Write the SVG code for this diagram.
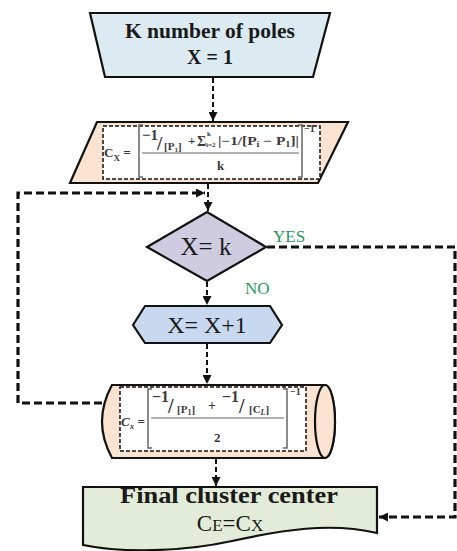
<svg xmlns="http://www.w3.org/2000/svg" width="457" height="551" viewBox="0 0 457 551">
  <defs>
    <style>
      .shape { stroke: #111; stroke-width: 2.2; stroke-linejoin: miter; }
      .inner { fill: #fff; stroke: #111; stroke-width: 1.5; stroke-dasharray: 4 2; }
      .flow { fill: none; stroke: #111; stroke-width: 2; stroke-dasharray: 5 3; }
      .loop { fill: none; stroke: #111; stroke-width: 3.2; stroke-dasharray: 8 4; }
      .title { font-family: "Liberation Serif", "Times New Roman", serif; font-weight: bold; fill: #1a1a1a; text-anchor: middle; }
      .plain { font-family: "Liberation Serif", "Times New Roman", serif; fill: #1a1a1a; text-anchor: middle; }
      .math { font-family: "Liberation Serif", "Times New Roman", serif; font-weight: bold; fill: #3a3a3a; }
      .brk { fill: none; stroke: #666; stroke-width: 1.5; }
      .bar { stroke: #666; stroke-width: 1.2; }
      .lbl { font-family: "Liberation Serif", "Times New Roman", serif; font-size: 17px; fill: #1f9a5c; }
    </style>
    <marker id="ah" viewBox="0 0 10 10" refX="10" refY="5" markerWidth="9" markerHeight="9" markerUnits="userSpaceOnUse" orient="auto">
      <path d="M0,0 L10,5 L0,10 z" fill="#111"/>
    </marker>
  </defs>

  <!-- connectors -->
  <g id="connectors">
    <line class="flow" x1="213" y1="78" x2="213" y2="121" marker-end="url(#ah)"/>
    <line class="flow" x1="208" y1="184" x2="208" y2="211" marker-end="url(#ah)"/>
    <line class="flow" x1="207" y1="282" x2="207" y2="305" marker-end="url(#ah)"/>
    <line class="flow" x1="207" y1="344" x2="207" y2="384" marker-end="url(#ah)"/>
    <line class="flow" x1="216" y1="459" x2="216" y2="486" marker-end="url(#ah)"/>
    <!-- loop back from the stored result to the test -->
    <polyline class="loop" points="102,403 18,403 18,193 205,193" marker-end="url(#ah)"/>
    <!-- YES branch to the final result -->
    <polyline class="loop" points="267,247 455,247 455,517 379,517" marker-end="url(#ah)"/>
  </g>

  <!-- input: K number of poles -->
  <g id="input">
    <polygon class="shape" points="90,13 330,13 313,77 105,77" fill="#dceaf2"/>
    <text class="title" x="210" y="38" font-size="20" textLength="170" lengthAdjust="spacingAndGlyphs">K number of poles</text>
    <text class="title" x="210" y="64" font-size="20">X = 1</text>
  </g>

  <!-- initial centre formula -->
  <g id="init-formula">
    <polygon class="shape" points="97,122 348,122 318,183 70,183" fill="#fbe3d2"/>
    <rect class="inner" x="103" y="126" width="217" height="53"/>
    <text class="math" x="104" y="157" font-size="13">C<tspan font-size="9" dy="4">X</tspan><tspan dy="-4" font-size="13"> =</tspan></text>
    <path class="brk" d="M143,125 H139 V177 H143"/>
    <path class="brk" d="M298,125 H302 V177 H298"/>
    <text class="math" x="304" y="132" font-size="10">−1</text>
    <line class="bar" x1="142" y1="153" x2="299" y2="153"/>
    <text class="math" x="142" y="140" font-size="15">−1</text>
    <text class="math" x="157" y="150" font-size="19">/</text>
    <text class="math" x="164" y="150" font-size="11">[P<tspan font-size="7" dy="2">1</tspan><tspan dy="-2" font-size="11">]</tspan></text>
    <text class="math" x="188" y="145" font-size="13">+</text>
    <text class="math" x="197" y="146" font-size="14">Σ</text>
    <text class="math" x="207" y="136" font-size="7">k</text>
    <text class="math" x="206" y="147" font-size="7">i=2</text>
    <text class="math" x="218" y="145" font-size="12" textLength="81" lengthAdjust="spacingAndGlyphs">|−1/[P<tspan font-size="8" dy="2">i</tspan><tspan dy="-2" font-size="12"> − P</tspan><tspan font-size="8" dy="2">1</tspan><tspan dy="-2" font-size="12">]|</tspan></text>
    <text class="math" x="217" y="170" font-size="13">k</text>
  </g>

  <!-- decision -->
  <g id="decision">
    <polygon class="shape" points="207,212 266,247 207,281 147,247" fill="#cfcbe1"/>
    <text class="plain" x="206" y="255" font-size="25">X= k</text>
    <text class="lbl" x="273" y="242">YES</text>
    <text class="lbl" x="245" y="294">NO</text>
  </g>

  <!-- increment -->
  <g id="increment">
    <polygon class="shape" points="133,325 145,306 270,306 282,325 270,343 145,343" fill="#c7d8ef"/>
    <text class="plain" x="207" y="333" font-size="24">X= X+1</text>
  </g>

  <!-- updated centre formula (stored data) -->
  <g id="update-formula">
    <path class="shape" d="M112,385 H325 A10,36.5 0 0 1 325,458 H112 Q92,421.5 112,385 Z" fill="#fbe3d2"/>
    <ellipse class="shape" cx="325" cy="421.5" rx="10" ry="36.5" fill="#fbe3d2"/>
    <rect class="inner" x="120" y="387" width="186" height="64"/>
    <text class="math" x="121" y="426" font-size="13" font-style="italic">C<tspan font-size="9" dy="3">x</tspan><tspan dy="-3" font-size="13" font-style="normal"> =</tspan></text>
    <path class="brk" d="M152,389 H148 V448 H152"/>
    <path class="brk" d="M283,389 H287 V448 H283"/>
    <text class="math" x="290" y="395" font-size="10">−1</text>
    <line class="bar" x1="151" y1="418" x2="284" y2="418"/>
    <text class="math" x="152" y="402" font-size="16">−1</text>
    <text class="math" x="168" y="413" font-size="20">/</text>
    <text class="math" x="177" y="413" font-size="11">[P<tspan font-size="8" dy="2">1</tspan><tspan dy="-2" font-size="11">]</tspan></text>
    <text class="math" x="208" y="410" font-size="14">+</text>
    <text class="math" x="222" y="402" font-size="16">−1</text>
    <text class="math" x="239" y="413" font-size="20">/</text>
    <text class="math" x="249" y="413" font-size="11">[C<tspan font-size="8" dy="2" font-style="italic">L</tspan><tspan dy="-2" font-size="11">]</tspan></text>
    <text class="math" x="214" y="442" font-size="13">2</text>
  </g>

  <!-- output: final cluster centre -->
  <g id="output">
    <path class="shape" d="M83,487 H377 V533 C330,522 282,530 232,541 C182,552 122,553 83,545 Z" fill="#e3ecd8"/>
    <text class="title" x="229" y="503" font-size="23" textLength="218" lengthAdjust="spacingAndGlyphs">Final cluster center</text>
    <text class="plain" x="230" y="531" font-size="23">C<tspan font-size="17">E</tspan>=C<tspan font-size="17">X</tspan></text>
  </g>
</svg>
